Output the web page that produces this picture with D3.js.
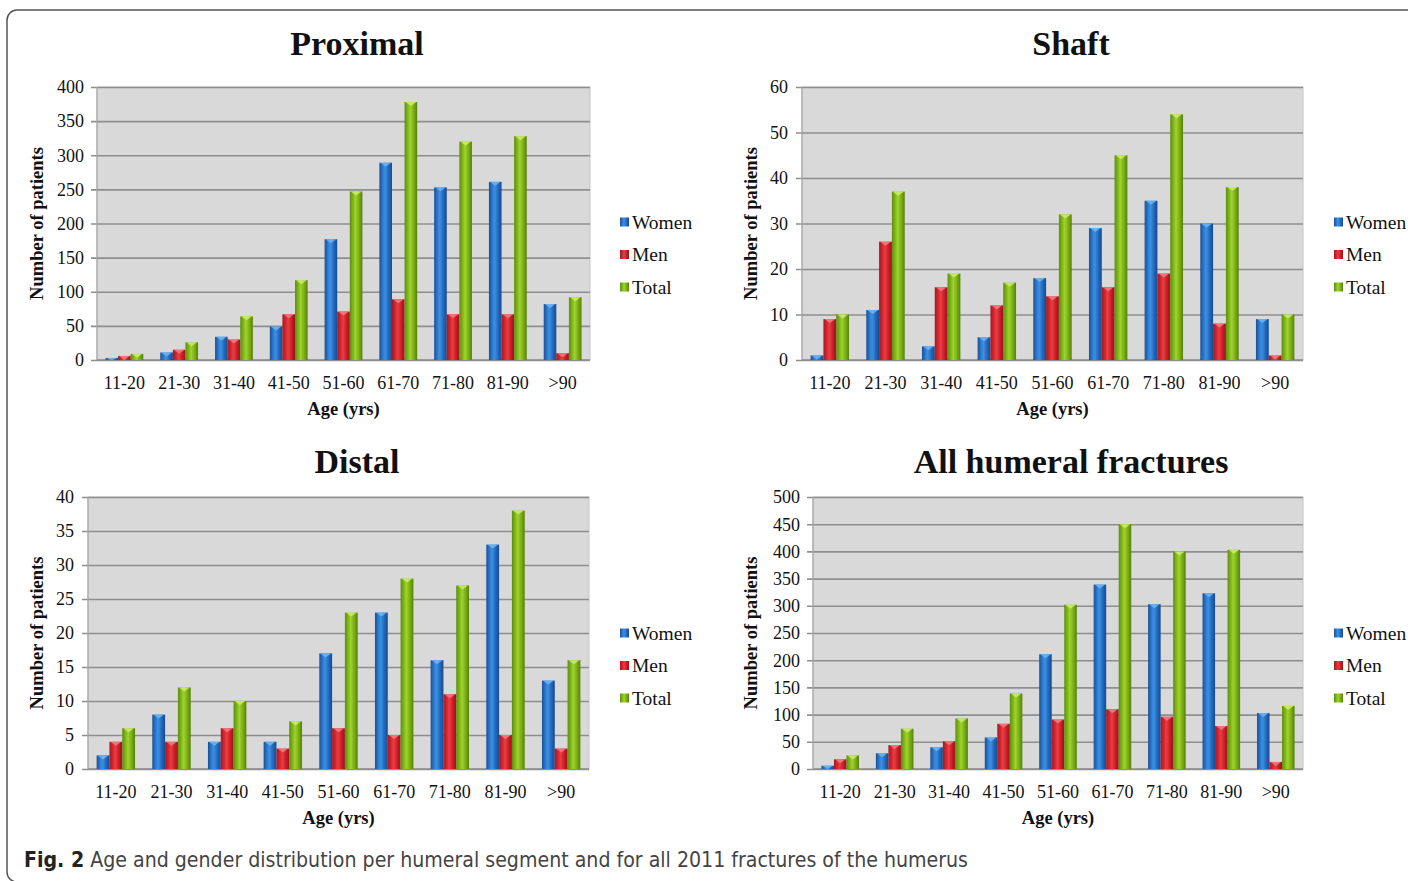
<!DOCTYPE html>
<html><head><meta charset="utf-8">
<script src="https://cdn.jsdelivr.net/npm/d3@7"></script>
<style>html,body{margin:0;padding:0;background:#fff;overflow:hidden}</style>
</head><body>
<svg id="chart" width="1408" height="881"></svg>
<script>
const ageGroups = ["11-20","21-30","31-40","41-50","51-60","61-70","71-80","81-90",">90"];
const seriesNames = ["Women","Men","Total"];

const proximalWomen = [3,11,34,49,177,289,253,261,82];
const proximalMen   = [6,15,30,67,71,89,67,67,10];
const proximalTotal = [9,26,64,117,247,378,320,328,92];

const shaftWomen = [1,11,3,5,18,29,35,30,9];
const shaftMen   = [9,26,16,12,14,16,19,8,1];
const shaftTotal = [10,37,19,17,32,45,54,38,10];

const distalWomen = [2,8,4,4,17,23,16,33,13];
const distalMen   = [4,4,6,3,6,5,11,5,3];
const distalTotal = [6,12,10,7,23,28,27,38,16];

const allWomen = [6,29,40,58,211,339,303,323,103];
const allMen   = [18,44,51,83,91,110,96,79,13];
const allTotal = [25,74,93,139,302,450,400,403,116];

const proximalTicks = [0,50,100,150,200,250,300,350,400];
const shaftTicks = [0,10,20,30,40,50,60];
const distalTicks = [0,5,10,15,20,25,30,35,40];
const allTicks = [0,50,100,150,200,250,300,350,400,450,500];

const svg = d3.select("#chart");
const serif = "'Liberation Serif','Times New Roman',serif";

// gradients
const defs = svg.append("defs");
const palettes = [
  {id:"gW", stops:["#1a4f97","#2f7fd4","#3b90e4","#2266b8","#174a8c"], cap:"#6ab4f2"},
  {id:"gM", stops:["#a9161d","#d92a32","#ec3d45","#c61e26","#991219"], cap:"#f27a80"},
  {id:"gT", stops:["#5d8d0e","#86bd1c","#9fd42c","#78aa15","#56800c"], cap:"#c8ec6a"}
];
palettes.forEach(p => {
  const g = defs.append("linearGradient").attr("id", p.id).attr("x1","0").attr("x2","1").attr("y1","0").attr("y2","0");
  [0,0.3,0.45,0.75,1].forEach((o,i)=> g.append("stop").attr("offset",o).attr("stop-color",p.stops[i]));
});

// frame
svg.append("rect").attr("x",7).attr("y",10).attr("width",1440).attr("height",872)
  .attr("rx",10).attr("fill","none").attr("stroke","#555").attr("stroke-width",1.5);

function drawPanel(cfg) {
  const {title, women, men, total, ticks, left, right, top, bottom, labelRight, yTitleX, titleX, titleY, legendX, legendY} = cfg;
  const g = svg.append("g");
  const x = d3.scaleBand().domain(ageGroups).range([left, right]).padding(0);
  const inner = d3.scaleBand().domain(seriesNames)
    .range([x.bandwidth()*0.155, x.bandwidth()*0.845]).padding(0);
  const y = d3.scaleLinear().domain([0, d3.max(ticks)]).range([bottom, top]);

  g.append("rect").attr("x",left).attr("y",top).attr("width",right-left).attr("height",bottom-top)
    .attr("fill","#d9d9d9").attr("stroke","#c4c4c4").attr("stroke-width",1);

  // gridlines + tick marks
  const yAxis = d3.axisLeft(y).tickValues(ticks).tickSize(right-left+6).tickFormat("");
  const ga = g.append("g").attr("transform",`translate(${right},0)`).call(yAxis);
  ga.select(".domain").remove();
  ga.selectAll(".tick line").attr("stroke","#8e8e8e").attr("stroke-width",1.6);

  g.append("line").attr("x1",left).attr("x2",left).attr("y1",top).attr("y2",bottom)
    .attr("stroke","#a8a8a8").attr("stroke-width",1.2);
  g.append("line").attr("x1",left).attr("x2",right).attr("y1",bottom).attr("y2",bottom)
    .attr("stroke","#8e8e8e").attr("stroke-width",1.6);

  // tick labels
  g.selectAll(".ylab").data(ticks).enter().append("text")
    .attr("x",labelRight).attr("y",d=>y(d)).attr("dy","0.35em")
    .attr("text-anchor","end").attr("font-family",serif).attr("font-size",18).attr("fill","#111")
    .text(d=>d);

  g.selectAll(".xlab").data(ageGroups).enter().append("text")
    .attr("x",d=>x(d)+x.bandwidth()/2).attr("y",bottom+29)
    .attr("text-anchor","middle").attr("font-family",serif).attr("font-size",18).attr("fill","#111")
    .text(d=>d);

  // bars
  const series = [women, men, total];
  series.forEach((vals, si) => {
    const p = palettes[si];
    const bw = inner.bandwidth();
    const grp = g.append("g");
    grp.selectAll("rect.bar").data(vals).enter().append("rect")
      .attr("x",(d,i)=>x(ageGroups[i])+inner(seriesNames[si]))
      .attr("y",d=>y(d)).attr("width",bw).attr("height",d=>bottom-y(d))
      .attr("fill",`url(#${p.id})`);
    grp.selectAll("path.cap").data(vals).enter().append("path")
      .attr("d",(d,i)=>{
        const x0 = x(ageGroups[i])+inner(seriesNames[si]);
        const y0 = y(d);
        const h = Math.min(4, bottom-y0);
        return `M${x0+1},${y0} L${x0+bw-1},${y0} L${x0+bw/2},${y0+h} Z`;
      })
      .attr("fill",p.cap).attr("opacity",0.9);
  });

  // titles
  g.append("text").attr("x",titleX).attr("y",titleY)
    .attr("text-anchor","middle").attr("font-family",serif).attr("font-weight","bold")
    .attr("font-size",34).attr("fill","#111").text(title);
  g.append("text").attr("x",(left+right)/2).attr("y",bottom+55)
    .attr("text-anchor","middle").attr("font-family",serif).attr("font-weight","bold")
    .attr("font-size",18.5).attr("fill","#111").text("Age (yrs)");
  g.append("text").attr("transform",`translate(${yTitleX},${(top+bottom)/2}) rotate(-90)`)
    .attr("dy","0.35em").attr("text-anchor","middle").attr("font-family",serif).attr("font-weight","bold")
    .attr("font-size",18.5).attr("fill","#111").text("Number of patients");

  // legend
  seriesNames.forEach((s, i) => {
    const ly = legendY + i*32.5;
    g.append("rect").attr("x",legendX).attr("y",ly-4.5).attr("width",9).attr("height",9)
      .attr("fill",`url(#${palettes[i].id})`);
    g.append("text").attr("x",legendX+12).attr("y",ly).attr("dy","0.35em")
      .attr("font-family",serif).attr("font-size",19.5).attr("fill","#111").text(s);
  });
}

drawPanel({title:"Proximal", women:proximalWomen, men:proximalMen, total:proximalTotal, ticks:proximalTicks,
  left:97, right:590, top:87, bottom:360, labelRight:84, yTitleX:37, titleX:357, titleY:55, legendX:620, legendY:222});
drawPanel({title:"Shaft", women:shaftWomen, men:shaftMen, total:shaftTotal, ticks:shaftTicks,
  left:802, right:1303, top:87, bottom:360, labelRight:788, yTitleX:751, titleX:1071, titleY:55, legendX:1334, legendY:222});
drawPanel({title:"Distal", women:distalWomen, men:distalMen, total:distalTotal, ticks:distalTicks,
  left:88, right:589, top:497, bottom:769, labelRight:74, yTitleX:37, titleX:357, titleY:473, legendX:620, legendY:633});
drawPanel({title:"All humeral fractures", women:allWomen, men:allMen, total:allTotal, ticks:allTicks,
  left:813, right:1303, top:497, bottom:769, labelRight:800, yTitleX:751, titleX:1071, titleY:473, legendX:1334, legendY:633});

// caption
const cap = svg.append("text").attr("x",24).attr("y",867)
  .attr("font-family","'Liberation Sans Narrow','DejaVu Sans Condensed','Open Sans',sans-serif")
  .attr("font-size",21).attr("fill","#444")
  .attr("textLength",944).attr("lengthAdjust","spacingAndGlyphs");
cap.append("tspan").attr("font-weight","bold").attr("fill","#222").text("Fig. 2");
cap.append("tspan").text(" Age and gender distribution per humeral segment and for all 2011 fractures of the humerus");
</script>
</body></html>
